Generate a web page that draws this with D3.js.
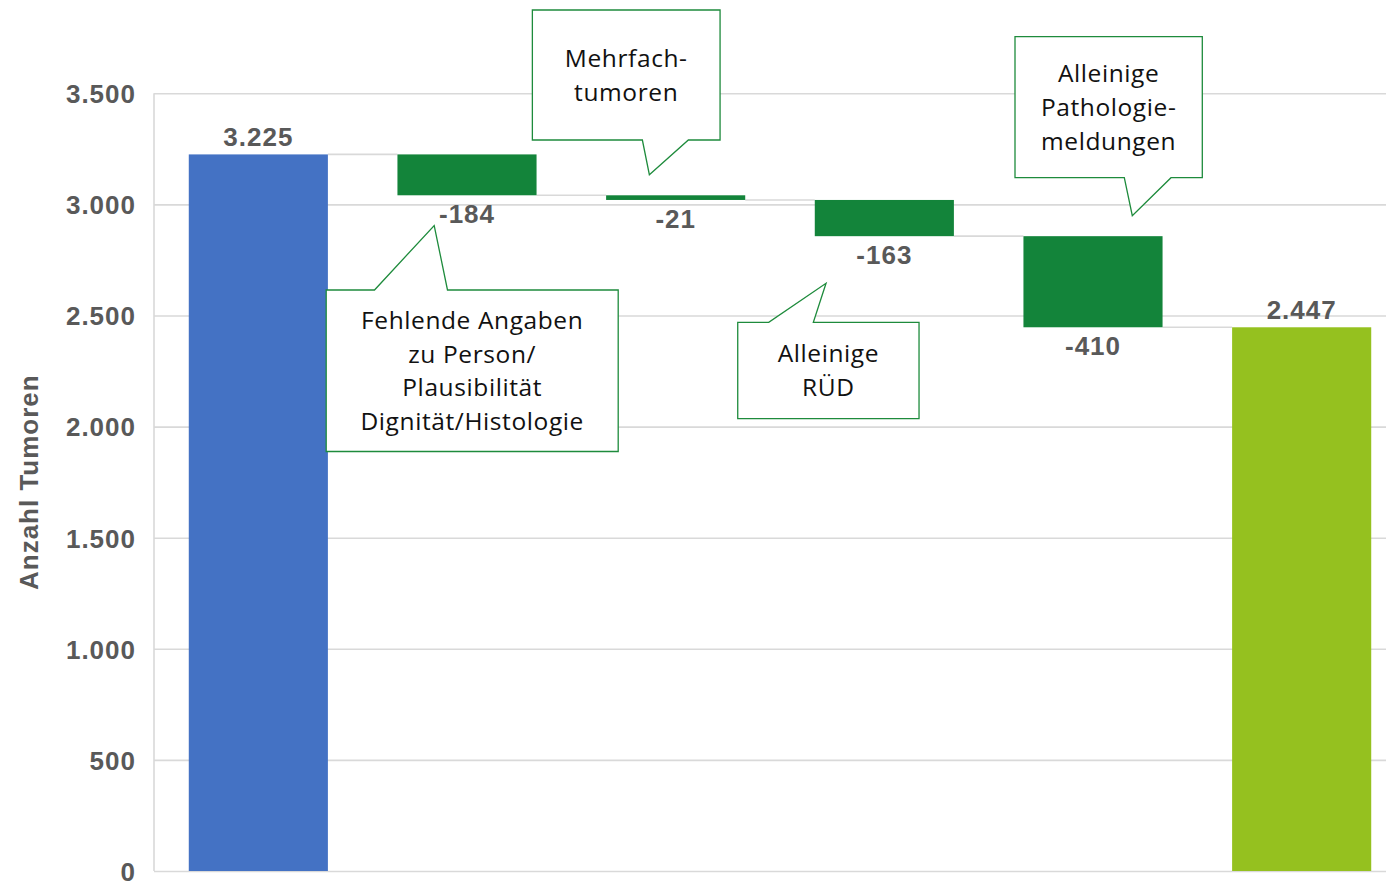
<!DOCTYPE html>
<html>
<head>
<meta charset="utf-8">
<script src="https://cdn.jsdelivr.net/npm/d3@7"></script>
<style>
  html, body { margin: 0; padding: 0; background: #fff; }
  svg { display: block; }
</style>
</head>
<body>
<svg id="chart" width="1386" height="881"></svg>
<script>
// ---------- data ----------
const categories = ["Gesamt", "Fehlende Angaben", "Mehrfachtumoren", "Alleinige RÜD", "Alleinige Pathologiemeldungen", "Ergebnis"];
const values = [3225, -184, -21, -163, -410, 2447];
const kinds = ["total", "delta", "delta", "delta", "delta", "total"];
const tickValues = [0, 500, 1000, 1500, 2000, 2500, 3000, 3500];
const yTitle = "Anzahl Tumoren";
const calloutCategories = ["Fehlende Angaben", "Mehrfachtumoren", "Alleinige RÜD", "Alleinige Pathologiemeldungen"];
const calloutLines = [
  ["Fehlende Angaben", "zu Person/", "Plausibilität", "Dignität/Histologie"],
  ["Mehrfach-", "tumoren"],
  ["Alleinige", "RÜD"],
  ["Alleinige", "Pathologie-", "meldungen"]
];

// ---------- layout ----------
const W = 1386, H = 881;
const plotLeft = 154, plotRight = 1406, yTop = 93.3, yBottom = 871;
const colors = { start: "#4472C4", delta: "#13843A", end: "#95C11F", grid: "#D9D9D9", label: "#595959", callout: "#1E8B3C" };
// callout geometry relative to category centre (dx) and absolute y
const calloutLayout = [
  { L: -140.8, R: 151.2, T: 290, B: 451.5, pL: -92.5, pR: -19.5, tipDx: -32.8, tipY: 225.5, side: "top" },
  { L: -143.3, R: 44.4, T: 10, B: 140, pL: -33.3, pR: 12.7, tipDx: -26.3, tipY: 174.7, side: "bottom" },
  { L: -146.6, R: 34.7, T: 322.3, B: 418.7, pL: -115.6, pR: -71, tipDx: -58.3, tipY: 283.3, side: "top" },
  { L: -78, R: 109.3, T: 36.7, B: 177.7, pL: 31.3, pR: 78, tipDx: 39.3, tipY: 215.7, side: "bottom" }
];

const svg = d3.select("#chart");
const de = d3.formatLocale({ decimal: ",", thousands: ".", grouping: [3], currency: ["", " €"], minus: "-" });
const fmt = de.format(",d");

const x = d3.scaleBand().domain(categories).range([plotLeft, plotRight]).paddingInner(1/3).paddingOuter(1/6);
const y = d3.scaleLinear().domain([0, 3500]).range([yBottom, yTop]);

// compute waterfall segments
let running = 0;
const bars = categories.map((c, i) => {
  let y0, y1;
  if (kinds[i] === "total") { y0 = 0; y1 = values[i]; running = values[i]; }
  else { y0 = running + values[i]; y1 = running; running = y0; }
  return { cat: c, value: values[i], kind: kinds[i], lo: y0, hi: y1, end: running, i };
});

// gridlines + tick labels via axis
const yAxis = d3.axisLeft(y).tickValues(tickValues).tickSize(-(W - plotLeft)).tickPadding(18).tickFormat(fmt);
const gAxis = svg.append("g").attr("transform", `translate(${plotLeft},0)`).call(yAxis);
gAxis.select(".domain").remove();
gAxis.selectAll(".tick line").attr("stroke", colors.grid).attr("stroke-width", 1.6);
gAxis.selectAll(".tick text")
  .attr("fill", colors.label)
  .style("font-family", "'Liberation Sans', Arial, sans-serif")
  .style("font-weight", "bold")
  .style("font-size", "26px")
  .style("letter-spacing", "1px")
  .attr("dy", "0.36em");
// left axis line
svg.append("line").attr("x1", plotLeft).attr("x2", plotLeft).attr("y1", y(3500)).attr("y2", y(0))
  .attr("stroke", colors.grid).attr("stroke-width", 1.6);

// y title
svg.append("text")
  .attr("transform", `translate(38,${(y(0) + y(3500)) / 2}) rotate(-90)`)
  .attr("text-anchor", "middle")
  .attr("fill", colors.label)
  .style("font-family", "'Liberation Sans', Arial, sans-serif")
  .style("font-weight", "bold")
  .style("font-size", "26px")
  .style("letter-spacing", "1px")
  .text(yTitle);

// connectors
const bw = x.bandwidth();
svg.append("g").selectAll("line").data(bars.slice(0, -1)).join("line")
  .attr("x1", d => x(d.cat) + bw)
  .attr("x2", d => x(categories[d.i + 1]))
  .attr("y1", d => y(d.end)).attr("y2", d => y(d.end))
  .attr("stroke", colors.grid).attr("stroke-width", 1.6);

// bars
svg.append("g").selectAll("rect").data(bars).join("rect")
  .attr("x", d => x(d.cat))
  .attr("width", bw)
  .attr("y", d => y(d.hi))
  .attr("height", d => y(d.lo) - y(d.hi))
  .attr("fill", d => d.kind === "delta" ? colors.delta : (d.i === 0 ? colors.start : colors.end));

// value labels
svg.append("g").selectAll("text").data(bars).join("text")
  .attr("x", d => x(d.cat) + bw / 2)
  .attr("y", d => d.kind === "total" ? y(d.hi) - 8.5 : y(d.lo) + 28)
  .attr("text-anchor", "middle")
  .attr("fill", colors.label)
  .style("font-family", "'Liberation Sans', Arial, sans-serif")
  .style("font-weight", "bold")
  .style("font-size", "26px")
  .style("letter-spacing", "1px")
  .text(d => fmt(d.value));

// callouts
const gC = svg.append("g");
calloutCategories.forEach((cat, k) => {
  const g = calloutLayout[k];
  const cx = x(cat) + bw / 2;
  const L = cx + g.L, R = cx + g.R, T = g.T, B = g.B;
  const pL = cx + g.pL, pR = cx + g.pR, tx = cx + g.tipDx, ty = g.tipY;
  const p = d3.path();
  if (g.side === "top") {
    p.moveTo(L, T); p.lineTo(pL, T); p.lineTo(tx, ty); p.lineTo(pR, T); p.lineTo(R, T);
    p.lineTo(R, B); p.lineTo(L, B); p.closePath();
  } else {
    p.moveTo(L, T); p.lineTo(R, T); p.lineTo(R, B); p.lineTo(pR, B); p.lineTo(tx, ty);
    p.lineTo(pL, B); p.lineTo(L, B); p.closePath();
  }
  gC.append("path").attr("d", p.toString()).attr("fill", "#fff")
    .attr("stroke", colors.callout).attr("stroke-width", 1.3);
  const lines = calloutLines[k];
  const lh = 33.7;
  const cy = (T + B) / 2;
  const first = cy + 8.7 - (lines.length - 1) / 2 * lh;
  const t = gC.append("text")
    .attr("text-anchor", "middle")
    .attr("fill", "#111")
    .style("font-family", "'Open Sans', 'Noto Sans', sans-serif")
    .style("font-size", "24.5px")
    .style("letter-spacing", "0.6px");
  lines.forEach((ln, j) => {
    t.append("tspan").attr("x", (L + R) / 2).attr("y", first + j * lh).text(ln);
  });
});
</script>
</body>
</html>
